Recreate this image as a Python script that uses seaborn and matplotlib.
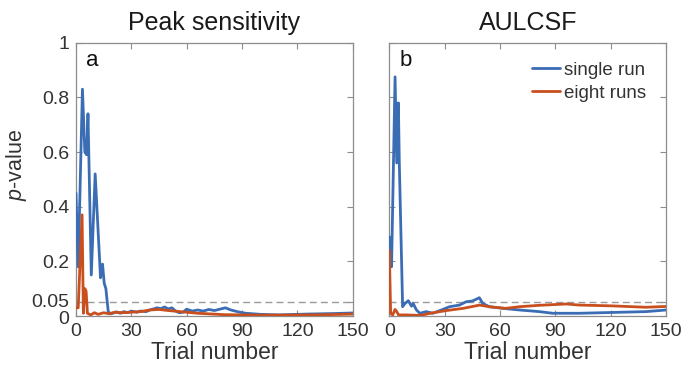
import numpy as np
import pandas as pd
import matplotlib
matplotlib.use("Agg")
import matplotlib.pyplot as plt
import matplotlib.transforms as mtransforms
import seaborn as sns

# ---- data (trial number, p-value) ----
peak_single_trial = [0, 1.2, 3.5, 4.8, 5.8, 6.5, 8.3, 10.4, 13.3, 14.4, 15.3, 16.2, 17.5,
                     19, 22, 24, 26, 28, 30, 33, 35, 38, 40, 42, 44, 46, 48, 50, 52, 54,
                     56, 58, 60, 63, 66, 69, 72, 75, 78, 81, 84, 88, 92, 100, 110, 125, 140, 150]
peak_single_p = [0.45, 0.18, 0.83, 0.6, 0.59, 0.74, 0.15, 0.52, 0.14, 0.19, 0.12, 0.1, 0.015,
                 0.008, 0.015, 0.01, 0.016, 0.012, 0.018, 0.014, 0.018, 0.016, 0.022, 0.026, 0.03,
                 0.027, 0.033, 0.026, 0.03, 0.018, 0.012, 0.014, 0.025, 0.018, 0.022, 0.018, 0.024,
                 0.02, 0.025, 0.03, 0.022, 0.015, 0.01, 0.006, 0.004, 0.007, 0.009, 0.011]

peak_eight_trial = [0, 1.2, 3.3, 4.0, 4.8, 5.5, 6.2, 8, 10, 12, 15, 18, 21, 25, 30, 35, 40,
                    45, 50, 55, 58, 66, 80, 100, 130, 150]
peak_eight_p = [0.03, 0.03, 0.37, 0.01, 0.1, 0.09, 0.01, 0.004, 0.012, 0.006, 0.012, 0.008,
                0.014, 0.012, 0.014, 0.016, 0.022, 0.024, 0.02, 0.017, 0.015, 0.01, 0.005,
                0.003, 0.004, 0.007]

aulc_single_trial = [0, 1.2, 3.1, 4.0, 4.9, 5.4, 7.2, 8.5, 10.3, 12, 12.9, 14.7, 16.5, 20,
                     23.6, 29, 32.6, 38, 41.6, 45, 47, 48.8, 50.6, 54.2, 61.5, 70.5, 81.3,
                     88.5, 103, 121, 139, 150]
aulc_single_p = [0.29, 0.18, 0.875, 0.56, 0.78, 0.56, 0.034, 0.046, 0.056, 0.036, 0.046,
                 0.022, 0.01, 0.016, 0.01, 0.024, 0.034, 0.04, 0.052, 0.055, 0.061, 0.067,
                 0.046, 0.034, 0.028, 0.022, 0.016, 0.01, 0.01, 0.013, 0.016, 0.022]

aulc_eight_trial = [0, 0.7, 1.8, 3.1, 4.0, 5, 9.4, 16.5, 23.8, 31, 40, 49, 54, 63, 70.5,
                    81, 96, 103, 121, 139, 150]
aulc_eight_p = [0.24, 0.01, 0.004, 0.024, 0.016, 0.004, 0.004, 0.002, 0.012, 0.02, 0.028,
                0.04, 0.034, 0.028, 0.034, 0.039, 0.044, 0.04, 0.037, 0.032, 0.035]

panel_titles = ["Peak sensitivity", "AULCSF"]
panel_letters = ["a", "b"]
series_names = ["single run", "eight runs"]
y_ticks = [0, 0.05, 0.2, 0.4, 0.6, 0.8, 1]
y_ticklabels = ["0", "0.05", "0.2", "0.4", "0.6", "0.8", "1"]
x_ticks = [0, 30, 60, 90, 120, 150]
threshold = 0.05

# ---- build tidy frames ----
def make_frame(trial_single, p_single, trial_eight, p_eight):
    a = pd.DataFrame({"trial": trial_single, "p": p_single, "run": series_names[0]})
    b = pd.DataFrame({"trial": trial_eight, "p": p_eight, "run": series_names[1]})
    return pd.concat([a, b], ignore_index=True)

frames = [
    make_frame(peak_single_trial, peak_single_p, peak_eight_trial, peak_eight_p),
    make_frame(aulc_single_trial, aulc_single_p, aulc_eight_trial, aulc_eight_p),
]

sns.set_style("white")
plt.rcParams["font.family"] = ["Liberation Sans", "DejaVu Sans"]
plt.rcParams["mathtext.fontset"] = "custom"
plt.rcParams["mathtext.it"] = "Liberation Sans:italic"
plt.rcParams["mathtext.rm"] = "Liberation Sans"

palette = {series_names[0]: "#3b6db5", series_names[1]: "#c94f1e"}
text_col = "#333333"
spine_col = "#8c8c8c"

fig = plt.figure(figsize=(6.99, 3.77), dpi=100)
axes = [fig.add_axes([0.1087, 0.1618, 0.3959, 0.7249]),
        fig.add_axes([0.5570, 0.1618, 0.3959, 0.7249])]

for i, ax in enumerate(axes):
    ax.axhline(threshold, color="#9a9a9a", lw=1.0, ls=(0, (5, 3)), zorder=1)
    sns.lineplot(data=frames[i], x="trial", y="p", hue="run", palette=palette,
                 lw=2.0, ax=ax, legend=(i == 1), zorder=3)
    ax.set_xlim(0, 150)
    ax.set_ylim(0, 1)
    ax.set_xticks(x_ticks)
    ax.set_yticks(y_ticks)
    if i == 0:
        ax.set_yticklabels(y_ticklabels)
        ax.set_ylabel(r"$\it{p}$-value", fontsize=15.5, color=text_col)
        ax.yaxis.set_label_coords(-0.17, 0.553)
    else:
        ax.set_yticklabels([])
        ax.set_ylabel("")
    ax.set_xlabel("Trial number", fontsize=16.5, color=text_col, labelpad=1)
    ax.set_title(panel_titles[i], fontsize=18, color="#1a1a1a", pad=9)
    ax.tick_params(direction="in", length=4, width=0.8, color=spine_col,
                   labelsize=14, labelcolor=text_col, top=True, right=True,
                   left=True, bottom=True, pad=5)
    for s in ax.spines.values():
        s.set_color(spine_col)
        s.set_linewidth(0.9)
    ax.text(0.036, 0.915, panel_letters[i], transform=ax.transAxes, fontsize=16,
            color="#111111", va="baseline", ha="left")

# nudge the two crowded labels at the bottom of the y axis apart, as in the original
ylabels = axes[0].get_yticklabels()
ylabels[1].set_transform(ylabels[1].get_transform() +
                         mtransforms.ScaledTranslation(0, 1.5 / 72, fig.dpi_scale_trans))
ylabels[0].set_transform(ylabels[0].get_transform() +
                         mtransforms.ScaledTranslation(0, -1.0 / 72, fig.dpi_scale_trans))

sns.move_legend(axes[1], "upper left", bbox_to_anchor=(0.515, 0.93), frameon=False,
                title=None, fontsize=13.5, handlelength=1.5, handletextpad=0.2,
                labelspacing=0.3, borderaxespad=0.0, borderpad=0.0)
for t in axes[1].get_legend().get_texts():
    t.set_color(text_col)
for h in axes[1].get_legend().get_lines():
    h.set_linewidth(2.0)

fig.savefig("out.png", dpi=100)
